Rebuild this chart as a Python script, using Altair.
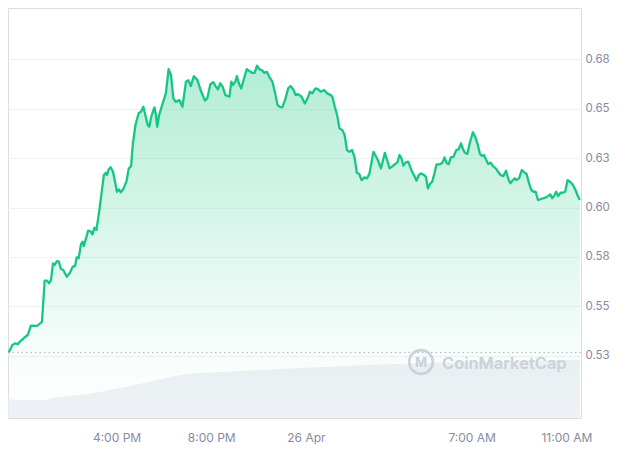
import altair as alt
import pandas as pd

# ---- data (minutes after 11:25 on 25 Apr, price in USD) ----
minutes = [
    2, 11, 19, 25, 31, 41, 50, 58, 65, 73,
    80, 86, 93, 99, 104, 109, 114, 118, 124, 129,
    134, 140, 149, 157, 164, 170, 174, 179, 185, 189,
    192, 197, 203, 209, 214, 219, 224, 231, 237, 243,
    248, 251, 255, 260, 266, 272, 276, 281, 286, 293,
    300, 306, 312, 316, 323, 331, 337, 343, 348, 354,
    358, 363, 371, 375, 378, 383, 392, 400, 407, 413,
    419, 425, 434, 442, 451, 457, 463, 471, 480, 488,
    499, 505, 513, 520, 526, 532, 538, 544, 551, 561,
    566, 570, 576, 580, 585, 591, 597, 605, 611, 618,
    625, 631, 637, 643, 649, 656, 662, 670, 677, 683,
    689, 695, 702, 710, 716, 723, 729, 735, 744, 752,
    759, 765, 771, 779, 786, 792, 801, 809, 818, 822,
    828, 834, 840, 847, 853, 859, 865, 872, 878, 884,
    890, 896, 903, 910, 916, 921, 926, 933, 938, 945,
    950, 955, 962, 967, 973, 980, 987, 992, 997, 1002,
    1008, 1014, 1019, 1024, 1030, 1035, 1041, 1047, 1054, 1059,
    1064, 1069, 1075, 1081, 1086, 1094, 1101, 1106, 1112, 1117,
    1122, 1129, 1136, 1142, 1148, 1153, 1158, 1164, 1171, 1178,
    1184, 1190, 1196, 1201, 1206, 1211, 1217, 1223, 1230, 1236,
    1242, 1248, 1255, 1262, 1268, 1273, 1278, 1284, 1288, 1295,
    1302, 1307, 1314, 1320, 1326, 1332, 1337, 1343, 1349, 1356,
    1362, 1368, 1374, 1379, 1385, 1389, 1394, 1400, 1406, 1412,
    1418, 1424, 1431, 1438, 1444, 1449,
]
prices = [
    0.5267, 0.5304, 0.5313, 0.5308, 0.5323, 0.5341, 0.5355, 0.5402, 0.5402, 0.5400,
    0.5411, 0.5421, 0.5630, 0.5630, 0.5617, 0.5633, 0.5718, 0.5709, 0.5729, 0.5726,
    0.5689, 0.5684, 0.5650, 0.5670, 0.5701, 0.5704, 0.5748, 0.5743, 0.5815, 0.5827,
    0.5805, 0.5839, 0.5883, 0.5880, 0.5864, 0.5898, 0.5886, 0.5979, 0.6072, 0.6165,
    0.6176, 0.6165, 0.6193, 0.6204, 0.6181, 0.6123, 0.6080, 0.6092, 0.6077, 0.6097,
    0.6131, 0.6198, 0.6210, 0.6316, 0.6418, 0.6477, 0.6485, 0.6510, 0.6468, 0.6418,
    0.6409, 0.6460, 0.6507, 0.6468, 0.6409, 0.6468, 0.6527, 0.6578, 0.6701, 0.6671,
    0.6553, 0.6535, 0.6544, 0.6510, 0.6637, 0.6645, 0.6615, 0.6665, 0.6645, 0.6595,
    0.6541, 0.6553, 0.6625, 0.6635, 0.6615, 0.6598, 0.6629, 0.6611, 0.6569, 0.6561,
    0.6637, 0.6620, 0.6637, 0.6665, 0.6629, 0.6603, 0.6645, 0.6701, 0.6692, 0.6682,
    0.6682, 0.6718, 0.6699, 0.6696, 0.6682, 0.6687, 0.6662, 0.6637, 0.6578, 0.6519,
    0.6510, 0.6507, 0.6544, 0.6603, 0.6615, 0.6598, 0.6569, 0.6574, 0.6561, 0.6527,
    0.6553, 0.6586, 0.6578, 0.6603, 0.6598, 0.6586, 0.6595, 0.6578, 0.6569, 0.6561,
    0.6510, 0.6468, 0.6401, 0.6392, 0.6367, 0.6291, 0.6282, 0.6291, 0.6257, 0.6176,
    0.6170, 0.6139, 0.6153, 0.6148, 0.6173, 0.6227, 0.6282, 0.6257, 0.6237, 0.6198,
    0.6237, 0.6277, 0.6232, 0.6198, 0.6207, 0.6219, 0.6229, 0.6266, 0.6249, 0.6212,
    0.6229, 0.6232, 0.6207, 0.6181, 0.6159, 0.6136, 0.6165, 0.6173, 0.6165, 0.6156,
    0.6097, 0.6119, 0.6131, 0.6176, 0.6219, 0.6219, 0.6227, 0.6254, 0.6224, 0.6220,
    0.6254, 0.6257, 0.6291, 0.6295, 0.6325, 0.6295, 0.6277, 0.6271, 0.6333, 0.6381,
    0.6358, 0.6321, 0.6271, 0.6261, 0.6266, 0.6244, 0.6220, 0.6227, 0.6207, 0.6198,
    0.6181, 0.6165, 0.6159, 0.6186, 0.6143, 0.6123, 0.6136, 0.6148, 0.6139, 0.6148,
    0.6190, 0.6181, 0.6170, 0.6126, 0.6089, 0.6080, 0.6080, 0.6038, 0.6042, 0.6047,
    0.6050, 0.6058, 0.6067, 0.6047, 0.6063, 0.6080, 0.6058, 0.6075, 0.6075, 0.6080,
    0.6139, 0.6131, 0.6117, 0.6089, 0.6058, 0.6038,
]

vol_minutes = [1, 31, 82, 132, 182, 233, 295, 358, 421, 484, 547, 610, 672,
               735, 798, 861, 924, 987, 1050, 1112, 1175, 1238, 1301, 1364, 1449]
volumes = [1.39, 1.32, 1.32, 1.54, 1.68, 1.90, 2.27, 2.63, 3.07, 3.29, 3.37, 3.48, 3.55,
           3.66, 3.73, 3.80, 3.91, 3.95, 4.02, 4.06, 4.10, 4.13, 4.17, 4.21, 4.24]

y_ticks = [0.525, 0.55, 0.575, 0.6, 0.625, 0.65, 0.675]
x_tick_hours = [(25, 16), (25, 20), (26, 0), (26, 7), (26, 11)]
watermark = ["CoinMarketCap"]

base = pd.Timestamp("2024-04-25 11:25:00")


def iso(m):
    return (base + pd.Timedelta(minutes=m)).strftime("%Y-%m-%dT%H:%M:%SZ")


price_df = pd.DataFrame({"t": [iso(m) for m in minutes], "price": prices})
vol_df = pd.DataFrame({"t": [iso(m) for m in vol_minutes], "volume": volumes})
open_df = pd.DataFrame({"open": [prices[0]]})
wm_df = pd.DataFrame({"label": watermark})

GREEN = "#16c784"
LABEL = "#858ca2"
FONT = "Inter"
Y_DOMAIN = [0.4935, 0.701]

x_scale = alt.Scale(
    type="utc",
    domain=[
        alt.DateTime(year=2024, month=4, date=25, hours=11, minutes=25, utc=True),
        alt.DateTime(year=2024, month=4, date=26, hours=11, minutes=37, utc=True),
    ],
)
x_axis = alt.Axis(
    values=[alt.DateTime(year=2024, month=4, date=d, hours=h, utc=True) for d, h in x_tick_hours],
    labelExpr="utchours(datum.value) == 0 ? utcFormat(datum.value, '%-d %b') : utcFormat(datum.value, '%-I:%M %p')",
    grid=False, ticks=False, domain=False, labelPadding=14, labelFontSize=12,
    labelColor=LABEL, labelFont=FONT, title=None,
)
y_axis = alt.Axis(
    orient="right", values=y_ticks,
    labelExpr="format(datum.value + 0.0001, '.2f')",
    grid=True, gridColor="#eff2f5", ticks=False, domain=False,
    labelPadding=4, labelFontSize=11.5, labelColor=LABEL, labelFont=FONT, title=None,
)
y_scale = alt.Scale(domain=Y_DOMAIN, nice=False, zero=False)

volume = alt.Chart(vol_df).mark_area(color="#eef1f5", interpolate="monotone").encode(
    x=alt.X("t:T", scale=x_scale, axis=x_axis),
    y=alt.Y("volume:Q", scale=alt.Scale(domain=[0, 30], nice=False), axis=None),
)

area = alt.Chart(price_df).mark_area(
    color=alt.Gradient(
        gradient="linear",
        stops=[
            alt.GradientStop(color="rgba(22,199,132,0)", offset=0),
            alt.GradientStop(color="rgba(22,199,132,0.03)", offset=0.18),
            alt.GradientStop(color="rgba(22,199,132,0.33)", offset=1),
        ],
        x1=1, x2=1, y1=1, y2=0,
    )
).encode(
    x=alt.X("t:T", scale=x_scale, axis=x_axis),
    y=alt.Y("price:Q", scale=y_scale, axis=y_axis),
    y2=alt.datum(Y_DOMAIN[0]),
)

line = alt.Chart(price_df).mark_line(color=GREEN, strokeWidth=2.3, strokeJoin="round").encode(
    x=alt.X("t:T", scale=x_scale, axis=x_axis),
    y=alt.Y("price:Q", scale=y_scale, axis=y_axis),
)

open_rule = alt.Chart(open_df).mark_rule(color="#a9b0c0", strokeDash=[1.5, 3], strokeWidth=1).encode(
    y=alt.Y("open:Q", scale=y_scale, axis=y_axis),
)

logo = alt.Chart(wm_df).mark_point(
    shape="circle", size=560, filled=False, stroke="#c9cdd6", strokeWidth=2.6, opacity=0.9
).encode(x=alt.value(413), y=alt.value(354))

logo_m = alt.Chart(wm_df).mark_text(
    text="M", font=FONT, fontSize=13, fontWeight="bold", color="#c9cdd6", opacity=0.9
).encode(x=alt.value(413), y=alt.value(355))

wm_text = alt.Chart(wm_df).mark_text(
    font=FONT, fontSize=16.5, fontWeight=600, color="#c9cdd6", opacity=0.9,
    align="left", baseline="alphabetic",
).encode(text="label:N", x=alt.value(434), y=alt.value(361))

price_layers = alt.layer(area, line, open_rule)

chart = alt.layer(volume, price_layers, logo, logo_m, wm_text).resolve_scale(
    y="independent"
).properties(
    width=573, height=410,
    autosize=alt.AutoSizeParams(type="none"),
    padding={"left": 0, "top": 0, "right": 30, "bottom": 27},
).configure_view(stroke="#eff2f5", strokeWidth=1).configure(background="white")

chart.save("out.html", embed_options={"renderer": "svg", "actions": False})
